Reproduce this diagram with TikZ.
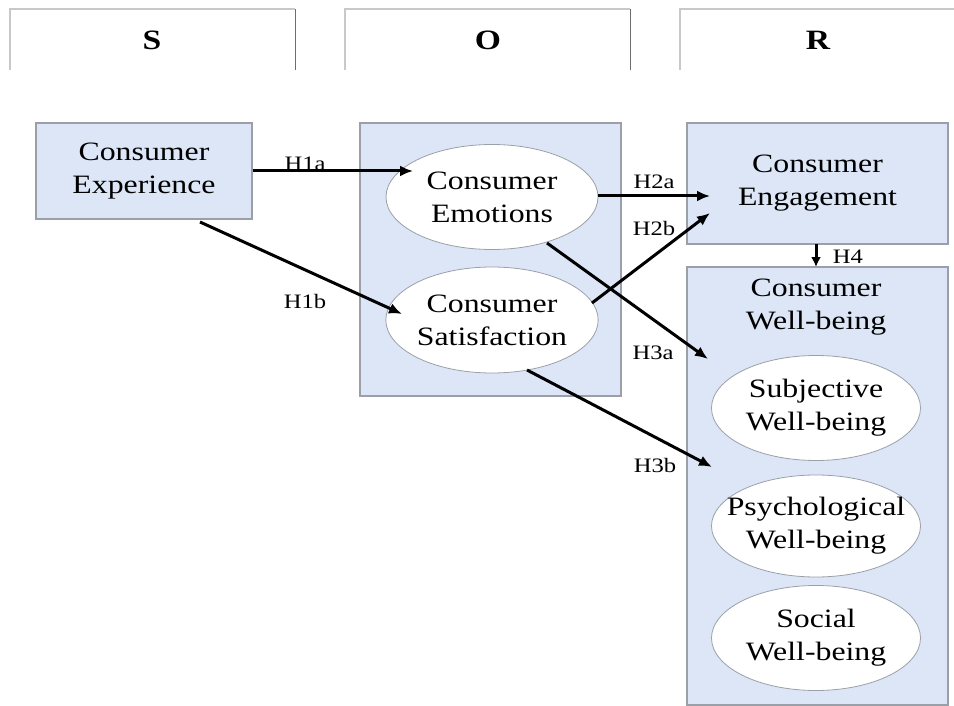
\documentclass[tikz,border=0pt]{standalone}
\usepackage{fontspec}
\setmainfont{Liberation Serif}[FakeStretch=1.2]
\usetikzlibrary{shapes.geometric,arrows.meta}
\definecolor{boxblue}{RGB}{220,230,247}
\definecolor{boxline}{RGB}{155,160,168}
\definecolor{hdrlight}{RGB}{200,200,200}
\definecolor{hdrdark}{RGB}{110,110,110}
\tikzset{
  bigtext/.style={font=\fontsize{26.5}{33}\selectfont, align=center},
  labeltext/.style={font=\fontsize{20.5}{24}\selectfont, inner sep=0pt},
  hdrtext/.style={font=\fontsize{28}{32}\selectfont\bfseries, inner sep=0pt},
  bluebox/.style={draw=boxline, line width=1.3pt, fill=boxblue},
  oval/.style={ellipse, draw=boxline, line width=0.8pt, fill=white, inner sep=0pt, bigtext},
  arr/.style={line width=3pt, -{Latex[length=13pt,width=11pt]}},
}
\begin{document}
\begin{tikzpicture}[x=1pt,y=-1pt]
\useasboundingbox (0,0) rectangle (954,706);
% header boxes
\draw[hdrlight, line width=1.5pt] (10,70) -- (10,9) -- (295,9);
\draw[hdrdark, line width=0.8pt] (295,9) -- (295,70);
\draw[hdrlight, line width=1.5pt] (345,70) -- (345,9) -- (630,9);
\draw[hdrdark, line width=0.8pt] (630,9) -- (630,70);
\draw[hdrlight, line width=1.5pt] (680,70) -- (680,9) -- (954,9);
\node[hdrtext] (hS) at (152,40) {S};
\node[hdrtext] (hO) at (488,40) {O};
\node[hdrtext] (hR) at (818,40) {R};
% boxes
\node[bluebox, minimum width=216pt, minimum height=96pt, inner sep=0pt, bigtext] (exp) at (144,171) {Consumer\\Experience};
\node[bluebox, minimum width=261pt, minimum height=273pt, inner sep=0pt] (obox) at (490.5,259.5) {};
\node[bluebox, minimum width=261pt, minimum height=121pt, inner sep=0pt, bigtext] (eng) at (817.5,183.5) {Consumer\\Engagement};
\node[bluebox, minimum width=261pt, minimum height=438pt, inner sep=0pt] (wb) at (817.5,486) {};
\node[bigtext, inner sep=0pt] (wbt) at (816,307) {Consumer\\Well-being};
% ellipses
\node[oval, minimum width=212pt, minimum height=105pt] (emo) at (492,197) {Consumer\\Emotions};
\node[oval, minimum width=212pt, minimum height=106pt] (sat) at (492,320) {Consumer\\Satisfaction};
\node[oval, minimum width=209pt, minimum height=105pt] (sub) at (816,408) {Subjective\\Well-being};
\node[oval, inner xsep=-16pt, minimum width=209pt, minimum height=102pt] (psy) at (816,526) {Psychological\\Well-being};
\node[oval, minimum width=209pt, minimum height=105pt] (soc) at (816,638) {Social\\Well-being};
% arrow endpoints
\coordinate (h1aE) at (413,171);
\coordinate (h1bS) at (200,222);
\coordinate (h1bE) at (402,314);
\coordinate (h2aS) at (598,196);
\coordinate (h2aE) at (710,196);
\coordinate (h2bS) at (592,303);
\coordinate (h2bE) at (710,213);
\coordinate (h3aS) at (547,243);
\coordinate (h3aE) at (708,359);
\coordinate (h3bS) at (527,370);
\coordinate (h3bE) at (712,467);
\coordinate (h4S) at (816,244);
\coordinate (h4E) at (816,267);
\draw[arr] (exp.east) -- (h1aE);
\draw[arr] (h1bS) -- (h1bE);
\draw[arr] (h2aS) -- (h2aE);
\draw[arr] (h2bS) -- (h2bE);
\draw[arr] (h3aS) -- (h3aE);
\draw[arr] (h3bS) -- (h3bE);
\draw[line width=3pt, -{Latex[length=10pt,width=10pt]}] (h4S) -- (h4E);
% labels
\node[labeltext] (l1a) at (305,164) {H1a};
\node[labeltext] (l1b) at (305,301) {H1b};
\node[labeltext] (l2a) at (654,182) {H2a};
\node[labeltext] (l2b) at (654,228) {H2b};
\node[labeltext] (l4) at (848,257) {H4};
\node[labeltext] (l3a) at (653,353) {H3a};
\node[labeltext] (l3b) at (655,465) {H3b};
\end{tikzpicture}
\end{document}
